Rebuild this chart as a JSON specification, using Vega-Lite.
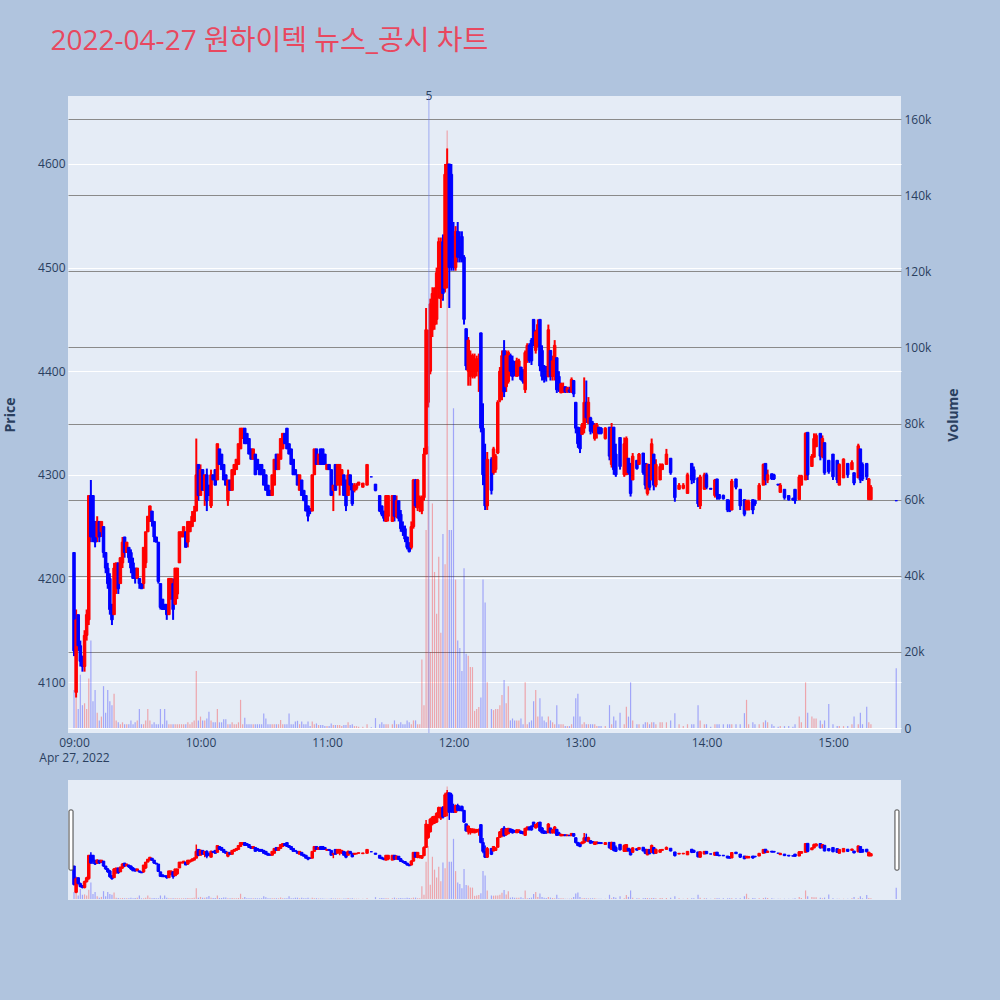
{
"$schema":"https://vega.github.io/schema/vega-lite/v6.json",
"background":"#B0C4DE",
"padding":{"left":3,"top":28,"right":45,"bottom":102},
"title":{"text":"2022-04-27 원하이텍 뉴스_공시 차트","anchor":"start","fontSize":28,"font":"Open Sans, Noto Sans CJK KR","fontWeight":"normal","color":"#E8485F","dx":47,"offset":34},
"config":{"view":{"fill":"#E5ECF6","stroke":null},"axis":{"ticks":false,"domain":false,"labelColor":"#2a3f5f","labelFont":"Open Sans","labelFontSize":12,"titleColor":"#2a3f5f","titleFont":"Open Sans","titleFontSize":14,"titleFontWeight":"bold"}},
"datasets":{"k":[
{"t":"2022-04-27T09:00","o":4225,"h":4225,"l":4125,"c":4130,"v":10000},
{"t":"2022-04-27T09:01","o":4090,"h":4170,"l":4085,"c":4160,"v":8000},
{"t":"2022-04-27T09:02","o":4165,"h":4165,"l":4130,"c":4135,"v":5000},
{"t":"2022-04-27T09:03","o":4135,"h":4140,"l":4115,"c":4120,"v":14000},
{"t":"2022-04-27T09:04","o":4125,"h":4125,"l":4110,"c":4115,"v":6000},
{"t":"2022-04-27T09:05","o":4115,"h":4150,"l":4110,"c":4145,"v":6500},
{"t":"2022-04-27T09:06","o":4145,"h":4170,"l":4140,"c":4165,"v":5000},
{"t":"2022-04-27T09:07","o":4160,"h":4280,"l":4155,"c":4280,"v":13000},
{"t":"2022-04-27T09:08","o":4280,"h":4295,"l":4235,"c":4240,"v":23000},
{"t":"2022-04-27T09:09","o":4280,"h":4280,"l":4235,"c":4250,"v":7000},
{"t":"2022-04-27T09:10","o":4255,"h":4255,"l":4230,"c":4235,"v":10000},
{"t":"2022-04-27T09:11","o":4240,"h":4260,"l":4235,"c":4255,"v":4000},
{"t":"2022-04-27T09:12","o":4255,"h":4255,"l":4235,"c":4240,"v":2000},
{"t":"2022-04-27T09:13","o":4245,"h":4255,"l":4240,"c":4255,"v":3000},
{"t":"2022-04-27T09:14","o":4250,"h":4250,"l":4220,"c":4225,"v":11000},
{"t":"2022-04-27T09:15","o":4225,"h":4225,"l":4205,"c":4210,"v":4000},
{"t":"2022-04-27T09:16","o":4210,"h":4215,"l":4190,"c":4195,"v":10000},
{"t":"2022-04-27T09:17","o":4200,"h":4205,"l":4165,"c":4170,"v":7000},
{"t":"2022-04-27T09:18","o":4175,"h":4175,"l":4155,"c":4160,"v":6000},
{"t":"2022-04-27T09:19","o":4165,"h":4215,"l":4165,"c":4210,"v":9000},
{"t":"2022-04-27T09:20","o":4190,"h":4215,"l":4185,"c":4215,"v":2000},
{"t":"2022-04-27T09:21","o":4215,"h":4215,"l":4185,"c":4190,"v":1500},
{"t":"2022-04-27T09:22","o":4195,"h":4220,"l":4195,"c":4220,"v":1000},
{"t":"2022-04-27T09:23","o":4215,"h":4240,"l":4210,"c":4235,"v":1500},
{"t":"2022-04-27T09:24","o":4240,"h":4240,"l":4220,"c":4225,"v":1000},
{"t":"2022-04-27T09:25","o":4225,"h":4235,"l":4225,"c":4235,"v":1000},
{"t":"2022-04-27T09:26","o":4230,"h":4230,"l":4215,"c":4220,"v":1000},
{"t":"2022-04-27T09:27","o":4225,"h":4228,"l":4205,"c":4210,"v":2000},
{"t":"2022-04-27T09:28","o":4215,"h":4220,"l":4200,"c":4200,"v":1000},
{"t":"2022-04-27T09:29","o":4210,"h":4210,"l":4195,"c":4200,"v":1500},
{"t":"2022-04-27T09:30","o":4200,"h":4210,"l":4200,"c":4210,"v":2000},
{"t":"2022-04-27T09:31","o":4200,"h":4200,"l":4190,"c":4195,"v":5000},
{"t":"2022-04-27T09:32","o":4195,"h":4195,"l":4190,"c":4190,"v":1000},
{"t":"2022-04-27T09:33","o":4195,"h":4230,"l":4190,"c":4230,"v":1000},
{"t":"2022-04-27T09:34","o":4215,"h":4245,"l":4210,"c":4245,"v":2000},
{"t":"2022-04-27T09:35","o":4245,"h":4260,"l":4245,"c":4260,"v":5000},
{"t":"2022-04-27T09:36","o":4255,"h":4270,"l":4255,"c":4270,"v":2000},
{"t":"2022-04-27T09:37","o":4265,"h":4265,"l":4250,"c":4255,"v":1000},
{"t":"2022-04-27T09:38","o":4255,"h":4255,"l":4235,"c":4240,"v":1500},
{"t":"2022-04-27T09:39","o":4240,"h":4240,"l":4235,"c":4235,"v":1000},
{"t":"2022-04-27T09:40","o":4235,"h":4235,"l":4195,"c":4197,"v":1000},
{"t":"2022-04-27T09:41","o":4195,"h":4195,"l":4170,"c":4172,"v":5000},
{"t":"2022-04-27T09:42","o":4180,"h":4180,"l":4170,"c":4170,"v":1000},
{"t":"2022-04-27T09:43","o":4175,"h":4175,"l":4170,"c":4170,"v":5000},
{"t":"2022-04-27T09:44","o":4175,"h":4175,"l":4160,"c":4165,"v":2000},
{"t":"2022-04-27T09:45","o":4165,"h":4200,"l":4165,"c":4200,"v":1000},
{"t":"2022-04-27T09:46","o":4180,"h":4200,"l":4180,"c":4200,"v":1000},
{"t":"2022-04-27T09:47","o":4195,"h":4200,"l":4160,"c":4170,"v":1000},
{"t":"2022-04-27T09:48","o":4175,"h":4210,"l":4175,"c":4210,"v":1000},
{"t":"2022-04-27T09:49","o":4185,"h":4210,"l":4180,"c":4210,"v":1000},
{"t":"2022-04-27T09:50","o":4215,"h":4245,"l":4215,"c":4245,"v":1000},
{"t":"2022-04-27T09:51","o":4240,"h":4245,"l":4240,"c":4245,"v":1000},
{"t":"2022-04-27T09:52","o":4240,"h":4250,"l":4240,"c":4250,"v":1000},
{"t":"2022-04-27T09:53","o":4245,"h":4245,"l":4230,"c":4230,"v":1000},
{"t":"2022-04-27T09:54","o":4235,"h":4255,"l":4230,"c":4255,"v":1500},
{"t":"2022-04-27T09:55","o":4245,"h":4255,"l":4245,"c":4255,"v":1000},
{"t":"2022-04-27T09:56","o":4250,"h":4265,"l":4250,"c":4260,"v":1500},
{"t":"2022-04-27T09:57","o":4255,"h":4270,"l":4255,"c":4265,"v":2000},
{"t":"2022-04-27T09:58","o":4265,"h":4335,"l":4265,"c":4300,"v":15000},
{"t":"2022-04-27T09:59","o":4310,"h":4310,"l":4275,"c":4280,"v":2000},
{"t":"2022-04-27T10:00","o":4280,"h":4310,"l":4280,"c":4305,"v":3000},
{"t":"2022-04-27T10:01","o":4305,"h":4305,"l":4285,"c":4285,"v":2000},
{"t":"2022-04-27T10:02","o":4285,"h":4300,"l":4270,"c":4300,"v":2000},
{"t":"2022-04-27T10:03","o":4300,"h":4306,"l":4265,"c":4275,"v":2500},
{"t":"2022-04-27T10:04","o":4290,"h":4290,"l":4280,"c":4280,"v":4300},
{"t":"2022-04-27T10:05","o":4270,"h":4305,"l":4268,"c":4300,"v":2000},
{"t":"2022-04-27T10:06","o":4300,"h":4300,"l":4295,"c":4295,"v":1500},
{"t":"2022-04-27T10:07","o":4305,"h":4305,"l":4290,"c":4290,"v":1500},
{"t":"2022-04-27T10:08","o":4295,"h":4330,"l":4295,"c":4330,"v":5000},
{"t":"2022-04-27T10:09","o":4325,"h":4325,"l":4310,"c":4310,"v":1500},
{"t":"2022-04-27T10:10","o":4320,"h":4320,"l":4305,"c":4305,"v":1500},
{"t":"2022-04-27T10:11","o":4310,"h":4310,"l":4295,"c":4295,"v":2300},
{"t":"2022-04-27T10:12","o":4300,"h":4300,"l":4290,"c":4290,"v":2300},
{"t":"2022-04-27T10:13","o":4275,"h":4295,"l":4270,"c":4295,"v":1000},
{"t":"2022-04-27T10:14","o":4295,"h":4295,"l":4285,"c":4285,"v":1000},
{"t":"2022-04-27T10:15","o":4285,"h":4305,"l":4285,"c":4305,"v":1500},
{"t":"2022-04-27T10:16","o":4300,"h":4310,"l":4300,"c":4310,"v":1000},
{"t":"2022-04-27T10:17","o":4305,"h":4315,"l":4305,"c":4315,"v":1000},
{"t":"2022-04-27T10:18","o":4310,"h":4330,"l":4310,"c":4330,"v":1500},
{"t":"2022-04-27T10:19","o":4325,"h":4345,"l":4325,"c":4345,"v":7400},
{"t":"2022-04-27T10:20","o":4335,"h":4345,"l":4335,"c":4345,"v":1000},
{"t":"2022-04-27T10:21","o":4345,"h":4345,"l":4330,"c":4330,"v":2700},
{"t":"2022-04-27T10:22","o":4340,"h":4340,"l":4330,"c":4330,"v":1000},
{"t":"2022-04-27T10:23","o":4335,"h":4335,"l":4320,"c":4320,"v":1000},
{"t":"2022-04-27T10:24","o":4325,"h":4325,"l":4315,"c":4315,"v":1000},
{"t":"2022-04-27T10:25","o":4315,"h":4325,"l":4315,"c":4325,"v":1000},
{"t":"2022-04-27T10:26","o":4320,"h":4320,"l":4300,"c":4300,"v":1000},
{"t":"2022-04-27T10:27","o":4315,"h":4315,"l":4305,"c":4305,"v":1000},
{"t":"2022-04-27T10:28","o":4310,"h":4310,"l":4300,"c":4300,"v":1000},
{"t":"2022-04-27T10:29","o":4310,"h":4310,"l":4300,"c":4300,"v":1000},
{"t":"2022-04-27T10:30","o":4305,"h":4305,"l":4290,"c":4290,"v":3800},
{"t":"2022-04-27T10:31","o":4300,"h":4300,"l":4285,"c":4285,"v":2500},
{"t":"2022-04-27T10:32","o":4290,"h":4290,"l":4280,"c":4280,"v":1000},
{"t":"2022-04-27T10:33","o":4285,"h":4285,"l":4280,"c":4280,"v":1000},
{"t":"2022-04-27T10:34","o":4280,"h":4300,"l":4280,"c":4300,"v":1000},
{"t":"2022-04-27T10:35","o":4290,"h":4315,"l":4290,"c":4315,"v":1000},
{"t":"2022-04-27T10:36","o":4320,"h":4320,"l":4305,"c":4305,"v":1000},
{"t":"2022-04-27T10:37","o":4305,"h":4320,"l":4305,"c":4320,"v":1000},
{"t":"2022-04-27T10:38","o":4315,"h":4335,"l":4315,"c":4335,"v":2100},
{"t":"2022-04-27T10:39","o":4325,"h":4340,"l":4325,"c":4340,"v":1000},
{"t":"2022-04-27T10:40","o":4340,"h":4340,"l":4330,"c":4330,"v":1000},
{"t":"2022-04-27T10:41","o":4345,"h":4345,"l":4325,"c":4325,"v":1000},
{"t":"2022-04-27T10:42","o":4330,"h":4330,"l":4320,"c":4320,"v":3800},
{"t":"2022-04-27T10:43","o":4325,"h":4325,"l":4310,"c":4310,"v":1000},
{"t":"2022-04-27T10:44","o":4315,"h":4315,"l":4300,"c":4300,"v":1000},
{"t":"2022-04-27T10:45","o":4305,"h":4305,"l":4300,"c":4300,"v":1700},
{"t":"2022-04-27T10:46","o":4300,"h":4300,"l":4290,"c":4290,"v":1900},
{"t":"2022-04-27T10:47","o":4285,"h":4300,"l":4285,"c":4300,"v":1000},
{"t":"2022-04-27T10:48","o":4295,"h":4295,"l":4280,"c":4280,"v":1700},
{"t":"2022-04-27T10:49","o":4285,"h":4285,"l":4275,"c":4275,"v":1000},
{"t":"2022-04-27T10:50","o":4280,"h":4280,"l":4265,"c":4265,"v":1000},
{"t":"2022-04-27T10:51","o":4270,"h":4270,"l":4255,"c":4260,"v":1700},
{"t":"2022-04-27T10:52","o":4265,"h":4268,"l":4262,"c":4265,"v":500},
{"t":"2022-04-27T10:53","o":4265,"h":4300,"l":4265,"c":4300,"v":1700},
{"t":"2022-04-27T10:54","o":4300,"h":4325,"l":4300,"c":4325,"v":1000},
{"t":"2022-04-27T10:55","o":4325,"h":4325,"l":4310,"c":4310,"v":1200},
{"t":"2022-04-27T10:56","o":4310,"h":4320,"l":4310,"c":4320,"v":800},
{"t":"2022-04-27T10:57","o":4325,"h":4325,"l":4310,"c":4310,"v":800},
{"t":"2022-04-27T10:58","o":4325,"h":4325,"l":4310,"c":4310,"v":800},
{"t":"2022-04-27T10:59","o":4320,"h":4320,"l":4310,"c":4310,"v":500},
{"t":"2022-04-27T11:00","o":4305,"h":4310,"l":4305,"c":4310,"v":500},
{"t":"2022-04-27T11:01","o":4310,"h":4310,"l":4305,"c":4305,"v":500},
{"t":"2022-04-27T11:02","o":4305,"h":4305,"l":4280,"c":4280,"v":1200},
{"t":"2022-04-27T11:03","o":4285,"h":4290,"l":4265,"c":4290,"v":800},
{"t":"2022-04-27T11:04","o":4310,"h":4310,"l":4285,"c":4285,"v":800},
{"t":"2022-04-27T11:05","o":4290,"h":4310,"l":4290,"c":4310,"v":800},
{"t":"2022-04-27T11:06","o":4295,"h":4310,"l":4280,"c":4310,"v":800},
{"t":"2022-04-27T11:07","o":4290,"h":4305,"l":4290,"c":4305,"v":500},
{"t":"2022-04-27T11:08","o":4300,"h":4300,"l":4280,"c":4280,"v":800},
{"t":"2022-04-27T11:09","o":4295,"h":4295,"l":4265,"c":4270,"v":800},
{"t":"2022-04-27T11:10","o":4280,"h":4305,"l":4280,"c":4300,"v":1500},
{"t":"2022-04-27T11:11","o":4300,"h":4300,"l":4285,"c":4290,"v":800},
{"t":"2022-04-27T11:12","o":4290,"h":4292,"l":4270,"c":4272,"v":1000},
{"t":"2022-04-27T11:13","o":4285,"h":4292,"l":4283,"c":4290,"v":500},
{"t":"2022-04-27T11:14","o":4287,"h":4292,"l":4285,"c":4290,"v":500},
{"t":"2022-04-27T11:15","o":4290,"h":4293,"l":4290,"c":4293,"v":300},
{"t":"2022-04-27T11:17","o":4288,"h":4292,"l":4288,"c":4292,"v":300},
{"t":"2022-04-27T11:19","o":4290,"h":4310,"l":4290,"c":4310,"v":1000},
{"t":"2022-04-27T11:21","o":4298,"h":4298,"l":4298,"c":4298,"v":200},
{"t":"2022-04-27T11:23","o":4291,"h":4291,"l":4284,"c":4285,"v":2600},
{"t":"2022-04-27T11:25","o":4280,"h":4280,"l":4264,"c":4265,"v":1000},
{"t":"2022-04-27T11:26","o":4270,"h":4270,"l":4260,"c":4262,"v":1500},
{"t":"2022-04-27T11:27","o":4265,"h":4265,"l":4255,"c":4258,"v":1000},
{"t":"2022-04-27T11:28","o":4255,"h":4280,"l":4255,"c":4280,"v":1000},
{"t":"2022-04-27T11:29","o":4260,"h":4280,"l":4255,"c":4280,"v":1000},
{"t":"2022-04-27T11:31","o":4255,"h":4280,"l":4255,"c":4280,"v":1000},
{"t":"2022-04-27T11:32","o":4280,"h":4280,"l":4255,"c":4260,"v":2000},
{"t":"2022-04-27T11:33","o":4260,"h":4280,"l":4258,"c":4275,"v":1000},
{"t":"2022-04-27T11:34","o":4275,"h":4275,"l":4255,"c":4258,"v":1000},
{"t":"2022-04-27T11:35","o":4262,"h":4266,"l":4245,"c":4248,"v":1500},
{"t":"2022-04-27T11:36","o":4250,"h":4255,"l":4241,"c":4245,"v":1000},
{"t":"2022-04-27T11:37","o":4248,"h":4251,"l":4235,"c":4238,"v":1000},
{"t":"2022-04-27T11:38","o":4240,"h":4240,"l":4228,"c":4230,"v":2000},
{"t":"2022-04-27T11:39","o":4232,"h":4235,"l":4225,"c":4226,"v":1500},
{"t":"2022-04-27T11:40","o":4230,"h":4255,"l":4228,"c":4250,"v":1000},
{"t":"2022-04-27T11:41","o":4250,"h":4296,"l":4248,"c":4295,"v":2000},
{"t":"2022-04-27T11:42","o":4295,"h":4296,"l":4268,"c":4270,"v":2000},
{"t":"2022-04-27T11:43","o":4268,"h":4296,"l":4265,"c":4295,"v":1000},
{"t":"2022-04-27T11:44","o":4270,"h":4280,"l":4264,"c":4278,"v":1000},
{"t":"2022-04-27T11:45","o":4265,"h":4280,"l":4262,"c":4278,"v":18000},
{"t":"2022-04-27T11:46","o":4278,"h":4326,"l":4275,"c":4320,"v":6000},
{"t":"2022-04-27T11:47","o":4320,"h":4461,"l":4320,"c":4440,"v":52000},
{"t":"2022-04-27T11:48","o":4370,"h":4440,"l":4365,"c":4430,"v":74000},
{"t":"2022-04-27T11:49","o":4400,"h":4470,"l":4397,"c":4465,"v":20000},
{"t":"2022-04-27T11:50","o":4440,"h":4481,"l":4433,"c":4475,"v":59000},
{"t":"2022-04-27T11:51","o":4445,"h":4481,"l":4440,"c":4480,"v":41000},
{"t":"2022-04-27T11:52","o":4450,"h":4500,"l":4445,"c":4495,"v":30000},
{"t":"2022-04-27T11:53","o":4480,"h":4529,"l":4470,"c":4525,"v":45000},
{"t":"2022-04-27T11:54","o":4470,"h":4529,"l":4461,"c":4520,"v":25000},
{"t":"2022-04-27T11:55","o":4525,"h":4532,"l":4468,"c":4475,"v":51000},
{"t":"2022-04-27T11:56","o":4480,"h":4600,"l":4476,"c":4590,"v":43000},
{"t":"2022-04-27T11:57","o":4590,"h":4615,"l":4480,"c":4600,"v":157000},
{"t":"2022-04-27T11:58","o":4600,"h":4600,"l":4461,"c":4500,"v":52000},
{"t":"2022-04-27T11:59","o":4590,"h":4600,"l":4497,"c":4510,"v":52000},
{"t":"2022-04-27T12:00","o":4530,"h":4544,"l":4497,"c":4500,"v":84000},
{"t":"2022-04-27T12:01","o":4500,"h":4540,"l":4497,"c":4535,"v":39000},
{"t":"2022-04-27T12:02","o":4535,"h":4544,"l":4505,"c":4510,"v":23000},
{"t":"2022-04-27T12:03","o":4520,"h":4535,"l":4505,"c":4510,"v":21000},
{"t":"2022-04-27T12:04","o":4530,"h":4535,"l":4505,"c":4508,"v":15000},
{"t":"2022-04-27T12:05","o":4510,"h":4512,"l":4445,"c":4450,"v":42000},
{"t":"2022-04-27T12:06","o":4441,"h":4441,"l":4401,"c":4405,"v":19500},
{"t":"2022-04-27T12:07","o":4400,"h":4433,"l":4386,"c":4430,"v":19000},
{"t":"2022-04-27T12:08","o":4395,"h":4420,"l":4386,"c":4415,"v":16000},
{"t":"2022-04-27T12:09","o":4400,"h":4417,"l":4393,"c":4415,"v":16000},
{"t":"2022-04-27T12:10","o":4395,"h":4417,"l":4393,"c":4410,"v":4500},
{"t":"2022-04-27T12:11","o":4400,"h":4415,"l":4395,"c":4412,"v":5000},
{"t":"2022-04-27T12:12","o":4405,"h":4417,"l":4380,"c":4410,"v":5500},
{"t":"2022-04-27T12:13","o":4437,"h":4437,"l":4341,"c":4345,"v":8000},
{"t":"2022-04-27T12:14","o":4345,"h":4369,"l":4290,"c":4300,"v":39000},
{"t":"2022-04-27T12:15","o":4300,"h":4330,"l":4266,"c":4270,"v":33000},
{"t":"2022-04-27T12:16","o":4270,"h":4322,"l":4266,"c":4315,"v":12000},
{"t":"2022-04-27T12:18","o":4315,"h":4317,"l":4281,"c":4285,"v":5000},
{"t":"2022-04-27T12:19","o":4302,"h":4327,"l":4300,"c":4325,"v":4700},
{"t":"2022-04-27T12:20","o":4305,"h":4320,"l":4302,"c":4318,"v":5000},
{"t":"2022-04-27T12:21","o":4321,"h":4372,"l":4320,"c":4370,"v":5000},
{"t":"2022-04-27T12:22","o":4372,"h":4404,"l":4370,"c":4400,"v":6000},
{"t":"2022-04-27T12:23","o":4380,"h":4420,"l":4372,"c":4415,"v":8700},
{"t":"2022-04-27T12:24","o":4420,"h":4430,"l":4375,"c":4380,"v":12600},
{"t":"2022-04-27T12:25","o":4385,"h":4420,"l":4380,"c":4415,"v":6500},
{"t":"2022-04-27T12:26","o":4390,"h":4420,"l":4388,"c":4418,"v":11000},
{"t":"2022-04-27T12:27","o":4415,"h":4417,"l":4395,"c":4400,"v":2000},
{"t":"2022-04-27T12:28","o":4410,"h":4415,"l":4391,"c":4395,"v":2500},
{"t":"2022-04-27T12:29","o":4405,"h":4410,"l":4395,"c":4400,"v":2000},
{"t":"2022-04-27T12:30","o":4395,"h":4413,"l":4395,"c":4410,"v":2000},
{"t":"2022-04-27T12:31","o":4398,"h":4412,"l":4395,"c":4410,"v":2000},
{"t":"2022-04-27T12:32","o":4404,"h":4404,"l":4391,"c":4392,"v":2500},
{"t":"2022-04-27T12:33","o":4400,"h":4402,"l":4388,"c":4390,"v":1000},
{"t":"2022-04-27T12:34","o":4382,"h":4420,"l":4379,"c":4418,"v":12000},
{"t":"2022-04-27T12:35","o":4410,"h":4427,"l":4408,"c":4425,"v":1000},
{"t":"2022-04-27T12:36","o":4425,"h":4427,"l":4408,"c":4410,"v":1500},
{"t":"2022-04-27T12:37","o":4430,"h":4432,"l":4406,"c":4410,"v":2000},
{"t":"2022-04-27T12:38","o":4450,"h":4450,"l":4424,"c":4428,"v":7000},
{"t":"2022-04-27T12:39","o":4420,"h":4440,"l":4417,"c":4438,"v":10000},
{"t":"2022-04-27T12:40","o":4425,"h":4450,"l":4423,"c":4445,"v":3000},
{"t":"2022-04-27T12:41","o":4450,"h":4450,"l":4400,"c":4405,"v":7800},
{"t":"2022-04-27T12:42","o":4420,"h":4425,"l":4391,"c":4395,"v":3000},
{"t":"2022-04-27T12:43","o":4405,"h":4406,"l":4389,"c":4392,"v":2000},
{"t":"2022-04-27T12:44","o":4400,"h":4405,"l":4390,"c":4395,"v":1500},
{"t":"2022-04-27T12:45","o":4395,"h":4445,"l":4394,"c":4440,"v":3000},
{"t":"2022-04-27T12:46","o":4420,"h":4420,"l":4391,"c":4395,"v":2000},
{"t":"2022-04-27T12:47","o":4395,"h":4415,"l":4391,"c":4410,"v":1500},
{"t":"2022-04-27T12:48","o":4395,"h":4430,"l":4391,"c":4425,"v":1000},
{"t":"2022-04-27T12:49","o":4413,"h":4413,"l":4379,"c":4382,"v":6000},
{"t":"2022-04-27T12:50","o":4395,"h":4400,"l":4380,"c":4385,"v":1000},
{"t":"2022-04-27T12:51","o":4379,"h":4389,"l":4379,"c":4388,"v":1000},
{"t":"2022-04-27T12:52","o":4380,"h":4389,"l":4379,"c":4385,"v":1000},
{"t":"2022-04-27T12:53","o":4385,"h":4385,"l":4379,"c":4380,"v":500},
{"t":"2022-04-27T12:54","o":4380,"h":4385,"l":4379,"c":4384,"v":500},
{"t":"2022-04-27T12:55","o":4382,"h":4385,"l":4379,"c":4380,"v":500},
{"t":"2022-04-27T12:56","o":4380,"h":4394,"l":4379,"c":4392,"v":1000},
{"t":"2022-04-27T12:57","o":4391,"h":4391,"l":4375,"c":4378,"v":3000},
{"t":"2022-04-27T12:58","o":4370,"h":4370,"l":4340,"c":4345,"v":7800},
{"t":"2022-04-27T12:59","o":4346,"h":4346,"l":4326,"c":4330,"v":9000},
{"t":"2022-04-27T13:00","o":4340,"h":4346,"l":4321,"c":4325,"v":3000},
{"t":"2022-04-27T13:01","o":4339,"h":4350,"l":4339,"c":4348,"v":1000},
{"t":"2022-04-27T13:02","o":4345,"h":4394,"l":4340,"c":4370,"v":1500},
{"t":"2022-04-27T13:03","o":4370,"h":4391,"l":4350,"c":4355,"v":1000},
{"t":"2022-04-27T13:04","o":4350,"h":4375,"l":4349,"c":4370,"v":1000},
{"t":"2022-04-27T13:05","o":4355,"h":4356,"l":4339,"c":4342,"v":1000},
{"t":"2022-04-27T13:06","o":4350,"h":4352,"l":4340,"c":4345,"v":1000},
{"t":"2022-04-27T13:07","o":4335,"h":4350,"l":4333,"c":4348,"v":1000},
{"t":"2022-04-27T13:08","o":4340,"h":4350,"l":4335,"c":4348,"v":500},
{"t":"2022-04-27T13:09","o":4346,"h":4346,"l":4339,"c":4340,"v":500},
{"t":"2022-04-27T13:10","o":4345,"h":4346,"l":4339,"c":4340,"v":500},
{"t":"2022-04-27T13:12","o":4335,"h":4346,"l":4334,"c":4345,"v":500},
{"t":"2022-04-27T13:14","o":4346,"h":4346,"l":4314,"c":4318,"v":6000},
{"t":"2022-04-27T13:15","o":4310,"h":4350,"l":4307,"c":4345,"v":1000},
{"t":"2022-04-27T13:16","o":4346,"h":4346,"l":4300,"c":4305,"v":3000},
{"t":"2022-04-27T13:17","o":4320,"h":4330,"l":4298,"c":4300,"v":2000},
{"t":"2022-04-27T13:19","o":4336,"h":4336,"l":4305,"c":4308,"v":4000},
{"t":"2022-04-27T13:21","o":4300,"h":4336,"l":4298,"c":4330,"v":1000},
{"t":"2022-04-27T13:22","o":4300,"h":4337,"l":4300,"c":4335,"v":5600},
{"t":"2022-04-27T13:23","o":4316,"h":4316,"l":4300,"c":4302,"v":3000},
{"t":"2022-04-27T13:24","o":4311,"h":4311,"l":4279,"c":4282,"v":12000},
{"t":"2022-04-27T13:25","o":4295,"h":4321,"l":4295,"c":4318,"v":2000},
{"t":"2022-04-27T13:27","o":4314,"h":4314,"l":4305,"c":4306,"v":1000},
{"t":"2022-04-27T13:28","o":4310,"h":4321,"l":4310,"c":4320,"v":1000},
{"t":"2022-04-27T13:30","o":4321,"h":4321,"l":4300,"c":4302,"v":1000},
{"t":"2022-04-27T13:31","o":4311,"h":4311,"l":4286,"c":4290,"v":1500},
{"t":"2022-04-27T13:32","o":4282,"h":4311,"l":4280,"c":4310,"v":1500},
{"t":"2022-04-27T13:33","o":4310,"h":4310,"l":4285,"c":4288,"v":1000},
{"t":"2022-04-27T13:34","o":4295,"h":4335,"l":4295,"c":4330,"v":1500},
{"t":"2022-04-27T13:35","o":4320,"h":4320,"l":4285,"c":4290,"v":1500},
{"t":"2022-04-27T13:36","o":4290,"h":4315,"l":4288,"c":4310,"v":1000},
{"t":"2022-04-27T13:38","o":4295,"h":4311,"l":4295,"c":4308,"v":1500},
{"t":"2022-04-27T13:39","o":4305,"h":4311,"l":4305,"c":4310,"v":1500},
{"t":"2022-04-27T13:41","o":4310,"h":4325,"l":4310,"c":4320,"v":1500},
{"t":"2022-04-27T13:43","o":4316,"h":4316,"l":4300,"c":4302,"v":2000},
{"t":"2022-04-27T13:45","o":4297,"h":4297,"l":4274,"c":4278,"v":3900},
{"t":"2022-04-27T13:47","o":4286,"h":4292,"l":4286,"c":4290,"v":1000},
{"t":"2022-04-27T13:49","o":4287,"h":4292,"l":4286,"c":4290,"v":500},
{"t":"2022-04-27T13:51","o":4282,"h":4302,"l":4282,"c":4300,"v":1000},
{"t":"2022-04-27T13:53","o":4311,"h":4311,"l":4291,"c":4295,"v":1000},
{"t":"2022-04-27T13:54","o":4305,"h":4308,"l":4292,"c":4295,"v":1000},
{"t":"2022-04-27T13:56","o":4297,"h":4297,"l":4269,"c":4272,"v":6000},
{"t":"2022-04-27T13:57","o":4270,"h":4300,"l":4267,"c":4298,"v":2000},
{"t":"2022-04-27T13:59","o":4286,"h":4302,"l":4286,"c":4300,"v":1000},
{"t":"2022-04-27T14:00","o":4300,"h":4302,"l":4286,"c":4288,"v":1000},
{"t":"2022-04-27T14:02","o":4287,"h":4287,"l":4286,"c":4286,"v":300},
{"t":"2022-04-27T14:04","o":4280,"h":4296,"l":4278,"c":4295,"v":1000},
{"t":"2022-04-27T14:05","o":4296,"h":4296,"l":4276,"c":4280,"v":1000},
{"t":"2022-04-27T14:06","o":4281,"h":4281,"l":4276,"c":4277,"v":1000},
{"t":"2022-04-27T14:08","o":4280,"h":4281,"l":4276,"c":4277,"v":1000},
{"t":"2022-04-27T14:10","o":4276,"h":4276,"l":4264,"c":4266,"v":1000},
{"t":"2022-04-27T14:11","o":4272,"h":4276,"l":4264,"c":4265,"v":1000},
{"t":"2022-04-27T14:12","o":4266,"h":4296,"l":4266,"c":4294,"v":1000},
{"t":"2022-04-27T14:14","o":4296,"h":4296,"l":4286,"c":4288,"v":1000},
{"t":"2022-04-27T14:16","o":4286,"h":4286,"l":4266,"c":4270,"v":1000},
{"t":"2022-04-27T14:18","o":4276,"h":4276,"l":4260,"c":4262,"v":3900},
{"t":"2022-04-27T14:19","o":4266,"h":4276,"l":4266,"c":4275,"v":7400},
{"t":"2022-04-27T14:20","o":4266,"h":4276,"l":4266,"c":4274,"v":1000},
{"t":"2022-04-27T14:22","o":4276,"h":4276,"l":4262,"c":4266,"v":1500},
{"t":"2022-04-27T14:23","o":4275,"h":4276,"l":4270,"c":4272,"v":1000},
{"t":"2022-04-27T14:25","o":4276,"h":4292,"l":4276,"c":4290,"v":1000},
{"t":"2022-04-27T14:27","o":4290,"h":4311,"l":4290,"c":4310,"v":1500},
{"t":"2022-04-27T14:28","o":4311,"h":4311,"l":4290,"c":4295,"v":2000},
{"t":"2022-04-27T14:29","o":4295,"h":4305,"l":4292,"c":4300,"v":1500},
{"t":"2022-04-27T14:31","o":4301,"h":4301,"l":4295,"c":4296,"v":1000},
{"t":"2022-04-27T14:32","o":4300,"h":4301,"l":4295,"c":4296,"v":500},
{"t":"2022-04-27T14:34","o":4291,"h":4291,"l":4290,"c":4290,"v":300},
{"t":"2022-04-27T14:35","o":4283,"h":4292,"l":4283,"c":4290,"v":500},
{"t":"2022-04-27T14:37","o":4286,"h":4286,"l":4276,"c":4278,"v":500},
{"t":"2022-04-27T14:39","o":4280,"h":4280,"l":4275,"c":4276,"v":500},
{"t":"2022-04-27T14:41","o":4277,"h":4278,"l":4275,"c":4276,"v":300},
{"t":"2022-04-27T14:42","o":4286,"h":4286,"l":4272,"c":4275,"v":1000},
{"t":"2022-04-27T14:44","o":4276,"h":4300,"l":4276,"c":4298,"v":3000},
{"t":"2022-04-27T14:45","o":4290,"h":4300,"l":4290,"c":4299,"v":1500},
{"t":"2022-04-27T14:47","o":4295,"h":4341,"l":4295,"c":4340,"v":12000},
{"t":"2022-04-27T14:48","o":4341,"h":4341,"l":4295,"c":4300,"v":4000},
{"t":"2022-04-27T14:50","o":4308,"h":4320,"l":4308,"c":4318,"v":3000},
{"t":"2022-04-27T14:51","o":4317,"h":4340,"l":4317,"c":4335,"v":2500},
{"t":"2022-04-27T14:52","o":4327,"h":4340,"l":4327,"c":4338,"v":2500},
{"t":"2022-04-27T14:54","o":4340,"h":4340,"l":4314,"c":4318,"v":2000},
{"t":"2022-04-27T14:55","o":4318,"h":4338,"l":4316,"c":4335,"v":1000},
{"t":"2022-04-27T14:56","o":4331,"h":4331,"l":4300,"c":4302,"v":2000},
{"t":"2022-04-27T14:58","o":4314,"h":4314,"l":4301,"c":4303,"v":6300},
{"t":"2022-04-27T15:00","o":4320,"h":4320,"l":4295,"c":4298,"v":1000},
{"t":"2022-04-27T15:02","o":4314,"h":4314,"l":4292,"c":4295,"v":500},
{"t":"2022-04-27T15:03","o":4290,"h":4311,"l":4290,"c":4310,"v":500},
{"t":"2022-04-27T15:05","o":4297,"h":4316,"l":4297,"c":4315,"v":500},
{"t":"2022-04-27T15:07","o":4311,"h":4311,"l":4297,"c":4300,"v":500},
{"t":"2022-04-27T15:09","o":4305,"h":4314,"l":4305,"c":4312,"v":1000},
{"t":"2022-04-27T15:10","o":4302,"h":4302,"l":4290,"c":4292,"v":3000},
{"t":"2022-04-27T15:12","o":4297,"h":4330,"l":4297,"c":4328,"v":1000},
{"t":"2022-04-27T15:13","o":4325,"h":4325,"l":4292,"c":4295,"v":4000},
{"t":"2022-04-27T15:14","o":4310,"h":4312,"l":4294,"c":4296,"v":1000},
{"t":"2022-04-27T15:16","o":4311,"h":4311,"l":4295,"c":4298,"v":5600},
{"t":"2022-04-27T15:17","o":4276,"h":4297,"l":4276,"c":4296,"v":1500},
{"t":"2022-04-27T15:18","o":4276,"h":4290,"l":4276,"c":4288,"v":1000},
{"t":"2022-04-27T15:30","o":4275,"h":4275,"l":4275,"c":4275,"v":15700}
]},
"spacing":17,
"vconcat":[
{
"width":833,"height":637,
"layer":[
{"data":{"name":"k"},
 "mark":{"type":"bar","size":1.2,"opacity":0.3},
 "encoding":{
  "x":{"field":"t","type":"temporal","title":null,
   "scale":{"domain":[{"year":2022,"month":4,"date":27,"hours":8,"minutes":57,"seconds":9},{"year":2022,"month":4,"date":27,"hours":15,"minutes":32,"seconds":16}],"nice":false,"padding":0},
   "axis":{"values":[{"year":2022,"month":4,"date":27,"hours":9},{"year":2022,"month":4,"date":27,"hours":10},{"year":2022,"month":4,"date":27,"hours":11},{"year":2022,"month":4,"date":27,"hours":12},{"year":2022,"month":4,"date":27,"hours":13},{"year":2022,"month":4,"date":27,"hours":14},{"year":2022,"month":4,"date":27,"hours":15}],
    "labelExpr":"datum.index == 0 ? [timeFormat(datum.value, '%H:%M'), timeFormat(datum.value, '%b %d, %Y')] : timeFormat(datum.value, '%H:%M')",
    "labelPadding":4,"labelLineHeight":15,"grid":false,"labelFlush":false,"labelOverlap":false}},
  "y":{"field":"v","type":"quantitative","scale":{"domain":[-1310,166050],"nice":false,"zero":false},
   "axis":{"orient":"right","title":"Volume","titleAngle":270,"values":[0,20000,40000,60000,80000,100000,120000,140000,160000],
    "labelExpr":"datum.value == 0 ? '0' : format(datum.value, '~s')","grid":true,
    "gridColor":{"condition":{"test":"datum.value === 0","value":"#ffffff"},"value":"#8a8a8a"},"gridWidth":1,"labelPadding":3,"titlePadding":30}},
  "color":{"condition":{"test":"datum.c > datum.o","value":"#ff0000"},"value":"#0000ff"}}},
{"layer":[
 {"data":{"name":"k"},
  "mark":{"type":"rule","strokeWidth":2},
  "encoding":{
   "x":{"field":"t","type":"temporal"},
   "y":{"field":"l","type":"quantitative","scale":{"domain":[4050.8,4665.6],"nice":false,"zero":false},
    "axis":{"orient":"left","title":"Price","values":[4100,4200,4300,4400,4500,4600],"format":"d","grid":true,"gridColor":"#ffffff","gridWidth":1,"labelPadding":3,"titlePadding":20}},
   "y2":{"field":"h"},
   "color":{"condition":{"test":"datum.c > datum.o","value":"#ff0000"},"value":"#0000ff"}}},
 {"data":{"name":"k"},
  "mark":{"type":"bar","size":2.5,"strokeWidth":1},
  "encoding":{
   "x":{"field":"t","type":"temporal"},
   "y":{"field":"o","type":"quantitative"},
   "y2":{"field":"c"},
   "color":{"condition":{"test":"datum.c > datum.o","value":"#ff0000"},"value":"#0000ff"},
   "stroke":{"condition":{"test":"datum.c > datum.o","value":"#ff0000"},"value":"#0000ff"}}},
 {"data":{"values":[{"t":"2022-04-27T11:48:20","n":"5"}]},
  "mark":{"type":"text","fontSize":12,"color":"#2a3f5f","baseline":"middle","font":"Open Sans"},
  "encoding":{"x":{"field":"t","type":"temporal"},"y":{"datum":4665.6},"text":{"field":"n"}}}
]},
{"data":{"values":[{"t":"2022-04-27T11:48:20"}]},
 "mark":{"type":"rule","color":"#6f7ff0","strokeWidth":1,"opacity":0.6},
 "encoding":{"x":{"field":"t","type":"temporal"}}}
],
"resolve":{"scale":{"y":"independent"},"axis":{"y":"independent"}}
},
{
"width":833,"height":120,
"layer":[
{"data":{"name":"k"},
 "mark":{"type":"bar","size":1.2,"opacity":0.3},
 "encoding":{
  "x":{"field":"t","type":"temporal","axis":null,
   "scale":{"domain":[{"year":2022,"month":4,"date":27,"hours":8,"minutes":57,"seconds":9},{"year":2022,"month":4,"date":27,"hours":15,"minutes":32,"seconds":16}],"nice":false,"padding":0}},
  "y":{"field":"v","type":"quantitative","axis":null,"scale":{"domain":[-1310,166050],"nice":false,"zero":false}},
  "color":{"condition":{"test":"datum.c > datum.o","value":"#ff0000"},"value":"#0000ff"}}},
{"layer":[
 {"data":{"name":"k"},
  "mark":{"type":"rule","strokeWidth":1.5},
  "encoding":{
   "x":{"field":"t","type":"temporal"},
   "y":{"field":"l","type":"quantitative","axis":null,"scale":{"domain":[4050.8,4665.6],"nice":false,"zero":false}},
   "y2":{"field":"h"},
   "color":{"condition":{"test":"datum.c > datum.o","value":"#ff0000"},"value":"#0000ff"}}},
 {"data":{"name":"k"},
  "mark":{"type":"bar","size":2.5,"strokeWidth":1},
  "encoding":{
   "x":{"field":"t","type":"temporal"},
   "y":{"field":"o","type":"quantitative"},
   "y2":{"field":"c"},
   "color":{"condition":{"test":"datum.c > datum.o","value":"#ff0000"},"value":"#0000ff"},
   "stroke":{"condition":{"test":"datum.c > datum.o","value":"#ff0000"},"value":"#0000ff"}}},
 {"data":{"values":[{}]},
  "mark":{"type":"rect","fill":"#ffffff","stroke":"#444444","strokeWidth":1,"cornerRadius":1},
  "encoding":{"x":{"datum":{"year":2022,"month":4,"date":27,"hours":8,"minutes":57,"seconds":38},"type":"temporal"},"x2":{"datum":{"year":2022,"month":4,"date":27,"hours":8,"minutes":59,"seconds":32}},"y":{"datum":4512,"type":"quantitative"},"y2":{"datum":4204}}},
 {"data":{"values":[{}]},
  "mark":{"type":"rect","fill":"#ffffff","stroke":"#444444","strokeWidth":1,"cornerRadius":1},
  "encoding":{"x":{"datum":{"year":2022,"month":4,"date":27,"hours":15,"minutes":29,"seconds":24},"type":"temporal"},"x2":{"datum":{"year":2022,"month":4,"date":27,"hours":15,"minutes":31,"seconds":18}},"y":{"datum":4512,"type":"quantitative"},"y2":{"datum":4204}}}
]}
],
"resolve":{"scale":{"y":"independent"}}
}
]
}
